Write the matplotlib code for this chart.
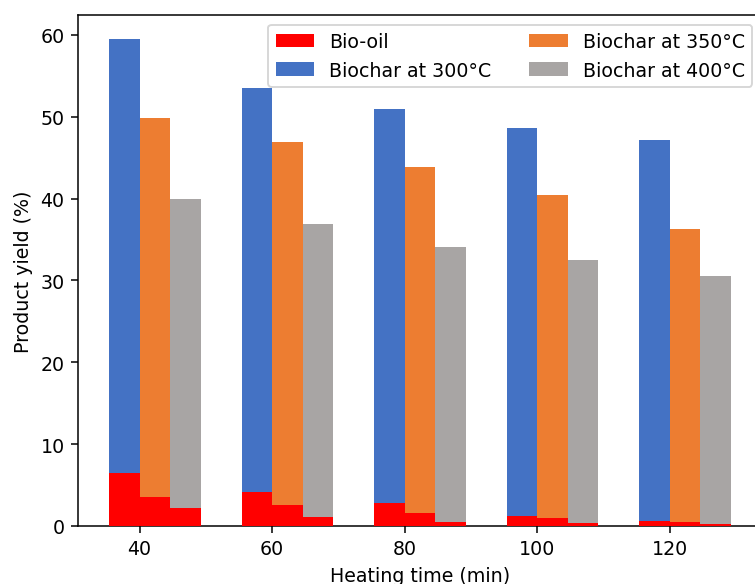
import matplotlib
matplotlib.use("Agg")
import matplotlib.pyplot as plt
import numpy as np

heating_time = ["40", "60", "80", "100", "120"]

biochar_300 = [59.45, 53.5, 50.95, 48.6, 47.1]
biochar_350 = [49.8, 46.9, 43.8, 40.4, 36.3]
biochar_400 = [40.0, 36.95, 34.1, 32.45, 30.6]

bio_oil_300 = [6.45, 4.1, 2.75, 1.25, 0.6]
bio_oil_350 = [3.6, 2.6, 1.6, 0.95, 0.45]
bio_oil_400 = [2.2, 1.05, 0.5, 0.4, 0.2]

c_oil = "#FF0000"
c_300 = "#4472C4"
c_350 = "#ED7D31"
c_400 = "#A8A5A4"

DPI = 137
W, H = 755, 585
fig = plt.figure(figsize=(W / DPI, H / DPI), dpi=DPI)
ax = fig.add_axes([78 / W, 58 / H, (762 - 78) / W, (527 - 16) / H])

x = np.arange(len(heating_time))
w = 0.23

h300 = ax.bar(x - w, biochar_300, w, align="edge", color=c_300, label="Biochar at 300°C")
h350 = ax.bar(x, biochar_350, w, align="edge", color=c_350, label="Biochar at 350°C")
h400 = ax.bar(x + w, biochar_400, w, align="edge", color=c_400, label="Biochar at 400°C")

hoil = ax.bar(x - w, bio_oil_300, w, align="edge", color=c_oil, label="Bio-oil", zorder=3)
ax.bar(x, bio_oil_350, w, align="edge", color=c_oil, zorder=3)
ax.bar(x + w, bio_oil_400, w, align="edge", color=c_oil, zorder=3)

ax.set_xticks(x)
ax.set_xticklabels(heating_time)
ax.set_xlabel("Heating time (min)")
ax.set_ylabel("Product yield (%)")

ax.legend([hoil, h300, h350, h400],
          ["Bio-oil", "Biochar at 300°C", "Biochar at 350°C", "Biochar at 400°C"],
          ncol=2, loc="upper right")

fig.savefig("out.png", dpi=DPI)
